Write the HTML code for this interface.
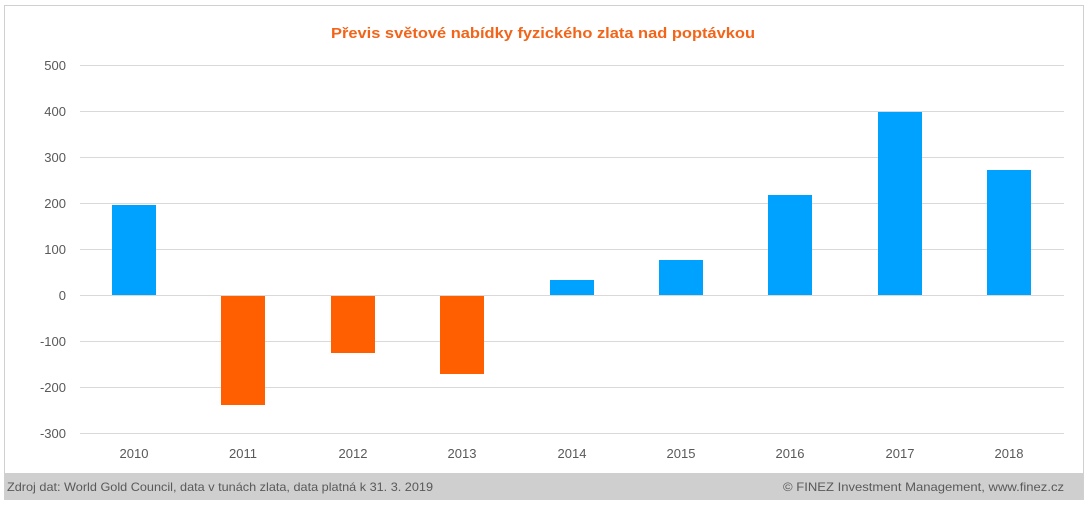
<!DOCTYPE html>
<html><head><meta charset="utf-8"><style>
html,body{margin:0;padding:0;background:#fff;}
svg{display:block;font-family:"Liberation Sans",sans-serif;}
</style></head><body>
<svg width="1090" height="505" viewBox="0 0 1090 505">
<rect x="0" y="0" width="1090" height="505" fill="#fff"/>
<rect x="4.5" y="5.5" width="1079" height="494" fill="#fff" stroke="#d0d0d0" stroke-width="1"/>
<rect x="5" y="473" width="1078" height="26" fill="#cfcfcf"/>
<text x="543" y="38" text-anchor="middle" font-size="15" font-weight="bold" fill="#f26419" textLength="424" lengthAdjust="spacingAndGlyphs">Převis světové nabídky fyzického zlata nad poptávkou</text>
<g stroke="#d9d9d9" stroke-width="1">
<line x1="80" x2="1064" y1="65.5" y2="65.5"/>
<line x1="80" x2="1064" y1="111.5" y2="111.5"/>
<line x1="80" x2="1064" y1="157.5" y2="157.5"/>
<line x1="80" x2="1064" y1="203.5" y2="203.5"/>
<line x1="80" x2="1064" y1="249.5" y2="249.5"/>
<line x1="80" x2="1064" y1="295.5" y2="295.5"/>
<line x1="80" x2="1064" y1="341.5" y2="341.5"/>
<line x1="80" x2="1064" y1="387.5" y2="387.5"/>
<line x1="80" x2="1064" y1="433.5" y2="433.5"/>
</g>
<g font-size="13" fill="#595959" text-anchor="end">
<text x="66" y="70">500</text>
<text x="66" y="116">400</text>
<text x="66" y="162">300</text>
<text x="66" y="208">200</text>
<text x="66" y="254">100</text>
<text x="66" y="300">0</text>
<text x="66" y="346">-100</text>
<text x="66" y="392">-200</text>
<text x="66" y="438">-300</text>
</g>
<g fill="#00a2ff">
<rect x="112" y="205" width="44" height="90"/>
<rect x="550" y="280" width="44" height="15"/>
<rect x="659" y="260" width="44" height="35"/>
<rect x="768" y="195" width="44" height="100"/>
<rect x="878" y="112" width="44" height="183"/>
<rect x="987" y="170" width="44" height="125"/>
</g>
<g fill="#ff5f00">
<rect x="221" y="296" width="44" height="109"/>
<rect x="331" y="296" width="44" height="57"/>
<rect x="440" y="296" width="44" height="78"/>
</g>
<g font-size="13" fill="#595959" text-anchor="middle">
<text x="134" y="458">2010</text>
<text x="243" y="458">2011</text>
<text x="353" y="458">2012</text>
<text x="462" y="458">2013</text>
<text x="572" y="458">2014</text>
<text x="681" y="458">2015</text>
<text x="790" y="458">2016</text>
<text x="900" y="458">2017</text>
<text x="1009" y="458">2018</text>
</g>
<text x="7" y="491" font-size="12" fill="#595959" textLength="426" lengthAdjust="spacingAndGlyphs">Zdroj dat: World Gold Council, data v tunách zlata, data platná k 31. 3. 2019</text>
<text x="1064" y="491" font-size="12" fill="#595959" text-anchor="end" textLength="281" lengthAdjust="spacingAndGlyphs">© FINEZ Investment Management, www.finez.cz</text>
</svg>
</body></html>
